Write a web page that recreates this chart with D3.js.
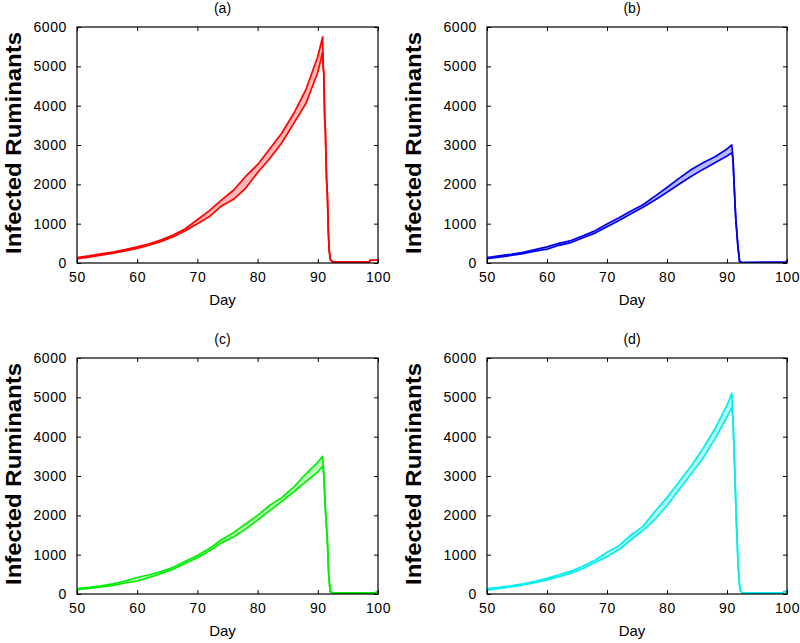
<!DOCTYPE html>
<html>
<head>
<meta charset="utf-8">
<script src="https://cdn.jsdelivr.net/npm/d3@7"></script>
<style>
  body { margin: 0; background: #fff; }
  svg { display: block; font-family: "Liberation Sans", Arial, sans-serif; }
</style>
</head>
<body>
<svg id="chart" width="800" height="643"></svg>
<script>
// ---------------- data ----------------
const riseDays = [50, 52, 54, 56, 58, 60, 62, 64, 66, 68, 70, 72, 74, 76, 78, 80, 82, 84, 86, 88, 90, 90.8];

const aLower = [110, 150, 200, 250, 310, 370, 450, 550, 670, 820, 1000, 1180, 1450, 1620, 1900, 2300, 2650, 3050, 3550, 4050, 4850, 5350];
const aUpper = [140, 180, 230, 280, 340, 410, 490, 590, 710, 870, 1100, 1330, 1600, 1850, 2200, 2500, 2900, 3300, 3800, 4400, 5250, 5750];
const aDropDays = [90.9, 91.0, 91.15, 91.25, 91.45, 91.6, 91.75, 91.9, 92.1, 92.6, 95, 98.5, 98.7, 100];
const aDropVals = [5000, 4800, 3650, 3400, 2150, 1700, 800, 300, 80, 20, 20, 20, 70, 70];

const bLower = [110, 150, 190, 240, 300, 350, 450, 520, 640, 760, 920, 1080, 1250, 1420, 1600, 1800, 2000, 2200, 2380, 2550, 2720, 2800];
const bUpper = [140, 180, 220, 270, 340, 410, 500, 570, 690, 820, 990, 1150, 1320, 1480, 1700, 1920, 2150, 2370, 2550, 2700, 2900, 3000];
const bDropDays = [91.0, 91.2, 91.45, 91.8, 92.1, 92.5, 99.8, 100];
const bDropVals = [2650, 1950, 1150, 450, 40, 10, 20, 60];

const cLower = [110, 140, 180, 220, 280, 330, 420, 520, 630, 780, 920, 1100, 1300, 1450, 1650, 1880, 2120, 2350, 2600, 2850, 3100, 3250];
const cUpper = [140, 170, 210, 260, 330, 420, 490, 570, 680, 830, 980, 1160, 1380, 1560, 1780, 2000, 2250, 2450, 2720, 3050, 3350, 3500];
const cDropDays = [91.0, 91.25, 91.6, 91.8, 92.05, 92.5, 99.5, 100];
const cDropVals = [3020, 2180, 1330, 530, 60, 30, 30, 60];

const dLower = [100, 140, 180, 230, 290, 360, 440, 530, 650, 800, 950, 1130, 1380, 1620, 1900, 2250, 2650, 3050, 3450, 3950, 4500, 4750];
const dUpper = [140, 170, 210, 260, 320, 400, 490, 580, 710, 860, 1060, 1230, 1500, 1720, 2100, 2450, 2850, 3250, 3700, 4200, 4800, 5100];
const dDropDays = [91.0, 91.3, 91.55, 91.85, 92.15, 92.6, 99.3, 99.5, 100];
const dDropVals = [4420, 3100, 1880, 740, 100, 20, 20, 60, 60];

const xTicks = [50, 60, 70, 80, 90, 100];
const yTicks = [0, 1000, 2000, 3000, 4000, 5000, 6000];
const panelTitles = ["(a)", "(b)", "(c)", "(d)"];
const xLabel = "Day";
const yLabel = "Infected Ruminants";

// ---------------- drawing ----------------
const svg = d3.select("#chart");

const panels = [
  { title: panelTitles[0], lo: aLower, hi: aUpper, dd: aDropDays, dv: aDropVals, color: "#ff0000", colX: 0, left: 77, top: 27, w: 301 },
  { title: panelTitles[1], lo: bLower, hi: bUpper, dd: bDropDays, dv: bDropVals, color: "#0000ee", colX: 400, left: 487, top: 27, w: 300 },
  { title: panelTitles[2], lo: cLower, hi: cUpper, dd: cDropDays, dv: cDropVals, color: "#00ee00", colX: 0, left: 77, top: 358, w: 301 },
  { title: panelTitles[3], lo: dLower, hi: dUpper, dd: dDropDays, dv: dDropVals, color: "#00eeee", colX: 400, left: 487, top: 358, w: 300 }
];
const H = 236;

panels.forEach(p => {
  const g = svg.append("g").attr("transform", `translate(${p.left},${p.top})`);
  const x = d3.scaleLinear().domain([50, 100]).range([0, p.w]);
  const y = d3.scaleLinear().domain([0, 6000]).range([H, 0]);

  const rise = riseDays.map((d, i) => ({ d, lo: p.lo[i], hi: p.hi[i] }));
  const drop = p.dd.map((d, i) => ({ d, v: p.dv[i] }));

  const clip = "clip" + p.title.replace(/\W/g, "");
  g.append("clipPath").attr("id", clip).append("rect").attr("width", p.w).attr("height", H);
  const plot = g.append("g").attr("clip-path", `url(#${clip})`);

  // band fill
  plot.append("path")
    .datum(rise)
    .attr("fill", p.color)
    .attr("fill-opacity", 0.28)
    .attr("d", d3.area().x(r => x(r.d)).y0(r => y(r.lo)).y1(r => y(r.hi)));

  const lowerPts = rise.map(r => [r.d, r.lo]).concat(drop.map(r => [r.d, r.v]));
  const upperPts = rise.map(r => [r.d, r.hi]).concat(drop.map(r => [r.d, r.v]));
  const line = d3.line().x(q => x(q[0])).y(q => y(q[1]));
  [lowerPts, upperPts].forEach(pts => {
    plot.append("path")
      .datum(pts)
      .attr("fill", "none")
      .attr("stroke", p.color)
      .attr("stroke-width", 1.7)
      .attr("stroke-linejoin", "round")
      .attr("d", line);
  });

  // axes box
  g.append("rect").attr("width", p.w).attr("height", H)
    .attr("fill", "none").attr("stroke", "#000").attr("stroke-width", 1.2);

  const styleAxis = sel => {
    sel.select(".domain").remove();
    sel.selectAll("line").attr("stroke", "#000");
    sel.selectAll("text").attr("fill", "#000").style("font-size", "14px").style("letter-spacing", "0.6px");
  };
  const fmt = d3.format("d");

  g.append("g").attr("transform", `translate(0,${H})`)
    .call(d3.axisBottom(x).tickValues(xTicks).tickFormat(fmt).tickSizeInner(-4).tickSizeOuter(0).tickPadding(9))
    .call(styleAxis);
  g.append("g")
    .call(d3.axisTop(x).tickValues(xTicks).tickSizeInner(-4).tickSizeOuter(0).tickFormat(""))
    .call(styleAxis);
  g.append("g")
    .call(d3.axisLeft(y).tickValues(yTicks).tickFormat(fmt).tickSizeInner(-4).tickSizeOuter(0).tickPadding(10))
    .call(styleAxis);
  g.append("g").attr("transform", `translate(${p.w},0)`)
    .call(d3.axisRight(y).tickValues(yTicks).tickSizeInner(-4).tickSizeOuter(0).tickFormat(""))
    .call(styleAxis);

  // title
  g.append("text")
    .attr("x", p.w / 2 - 5).attr("y", -14)
    .attr("text-anchor", "middle")
    .style("font-size", "14px")
    .text(p.title);

  // x label
  g.append("text")
    .attr("x", p.w / 2 - 5).attr("y", H + 42)
    .attr("text-anchor", "middle")
    .style("font-size", "15px")
    .text(xLabel);

  // y label
  g.append("text")
    .attr("transform", `translate(${p.colX + 21 - p.left},${H / 2 - 2}) rotate(-90)`)
    .attr("text-anchor", "middle")
    .attr("textLength", 222)
    .attr("lengthAdjust", "spacingAndGlyphs")
    .style("font-size", "22px")
    .style("font-weight", "bold")
    .text(yLabel);
});
</script>
</body>
</html>
